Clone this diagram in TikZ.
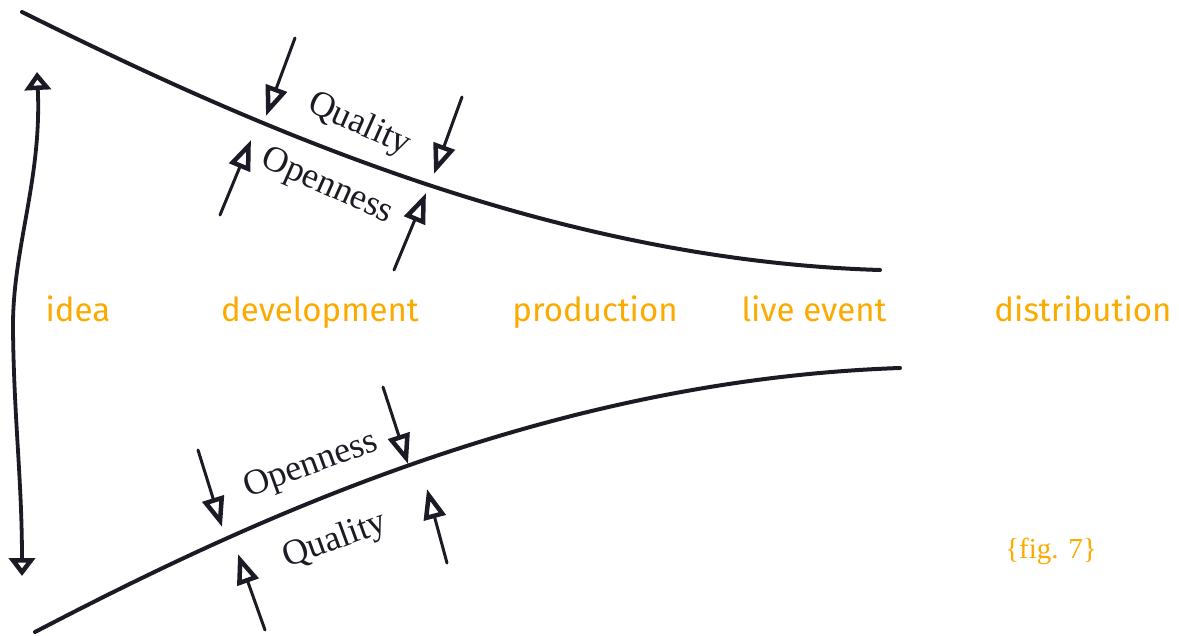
\documentclass[tikz,border=0pt]{standalone}
\usepackage{fontspec}
\setmainfont{Liberation Serif}
\newfontfamily\stagefont{Fira Sans}
\newfontfamily\capfont{Liberation Serif}
\usetikzlibrary{arrows.meta}
\definecolor{ink}{RGB}{28,26,36}
\definecolor{stage}{RGB}{252,170,0}
\tikzset{
  funnel/.style={draw=ink, line width=4pt, line cap=round},
  pusharrow/.style={draw=ink, line width=3pt, line cap=round,
    -{Triangle[open, length=30pt, width=22pt, line width=4.5pt, fill=white]}},
  spanarrow/.style={draw=ink, line width=3.8pt, line cap=round,
    {Triangle[open, length=18pt, width=26pt, line width=4.5pt, fill=white]}-{Triangle[open, length=18pt, width=26pt, line width=4.5pt, fill=white]}},
  stagelabel/.style={text=stage, font=\stagefont\fontsize{33}{33}\selectfont, anchor=base, inner sep=0pt},
  forcelabel/.style={text=ink, font=\rmfamily\fontsize{36}{36}\selectfont, inner sep=0pt},
}
\begin{document}
\begin{tikzpicture}[x=1pt, y=-1pt]
\useasboundingbox (0,0) rectangle (1179,636);

% upper and lower boundaries of the funnel
\draw[funnel] (22,12) .. controls (250,125) and (550,260) .. (880,270);
\draw[funnel] (35,632) .. controls (250,520) and (550,380) .. (900,368);

% span arrow on the left
\coordinate (spanTop) at (37,72);
\coordinate (spanBot) at (22,576);
\draw[spanarrow] (spanTop) .. controls (42,180) and (12,250) .. (13,330)
  .. controls (14,420) and (22,480) .. (spanBot);

% stage labels
\node[stagelabel] (idea) at (78,322) {idea};
\node[stagelabel] (dev) at (320,322) {development};
\node[stagelabel] (prod) at (595,322) {production};
\node[stagelabel] (live) at (814,322) {live event};
\node[stagelabel] (dist) at (1083,322) {distribution};

% forces on the upper boundary
\coordinate (a1s) at (295,38);  \coordinate (a1e) at (266,116);
\coordinate (a2s) at (462,97);  \coordinate (a2e) at (434,174);
\coordinate (a3s) at (220,215); \coordinate (a3e) at (251,140);
\coordinate (a4s) at (394,270); \coordinate (a4e) at (426,193);
\draw[pusharrow] (a1s) -- (a1e);
\draw[pusharrow] (a2s) -- (a2e);
\draw[pusharrow] (a3s) -- (a3e);
\draw[pusharrow] (a4s) -- (a4e);
\node[forcelabel, rotate=-24] (qualTop) at (359,125) {Quality};
\node[forcelabel, rotate=-24] (openTop) at (327,187) {Openness};

% forces on the lower boundary
\coordinate (b1s) at (198,450); \coordinate (b1e) at (222,527);
\coordinate (b2s) at (383,387); \coordinate (b2e) at (408,464);
\coordinate (b3s) at (265,630); \coordinate (b3e) at (238,554);
\coordinate (b4s) at (447,563); \coordinate (b4e) at (427,489);
\draw[pusharrow] (b1s) -- (b1e);
\draw[pusharrow] (b2s) -- (b2e);
\draw[pusharrow] (b3s) -- (b3e);
\draw[pusharrow] (b4s) -- (b4e);
\node[forcelabel, rotate=20] (openBot) at (311,466) {Openness};
\node[forcelabel, rotate=20] (qualBot) at (335,541) {Quality};

% caption
\node[text=stage, font=\capfont\fontsize{29}{29}\selectfont, inner sep=0pt] (fig) at (1051,551) {\{fig. 7\}};
\end{tikzpicture}
\end{document}
